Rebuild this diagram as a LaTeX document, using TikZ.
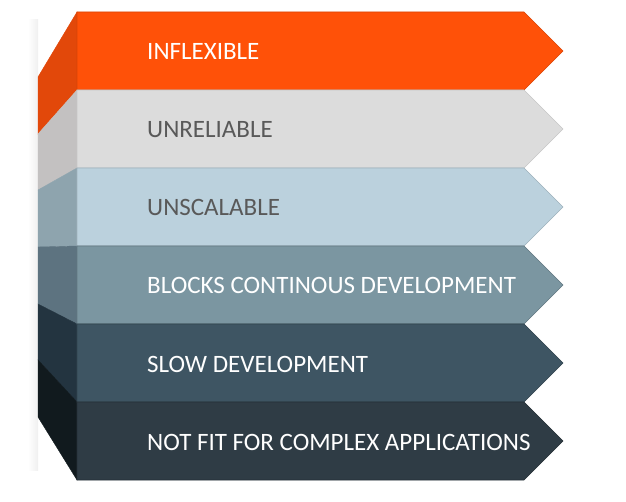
\documentclass[tikz,border=0pt]{standalone}
\usepackage{fontspec}
\setmainfont{Carlito}
\usepackage{tikz}
\definecolor{bandorange}{HTML}{FF5108}
\definecolor{sideorange}{HTML}{E2480A}
\definecolor{bandgray}{HTML}{DCDCDC}
\definecolor{sidegray}{HTML}{C3C1C1}
\definecolor{bandblue}{HTML}{BBD1DD}
\definecolor{sideblue}{HTML}{8EA4AE}
\definecolor{bandsteel}{HTML}{7B96A1}
\definecolor{sidesteel}{HTML}{5D7380}
\definecolor{bandslate}{HTML}{3E5563}
\definecolor{sideslate}{HTML}{233440}
\definecolor{banddark}{HTML}{2F3C45}
\definecolor{sidedark}{HTML}{111A1E}
\definecolor{txtgray}{HTML}{595959}
\tikzset{
  band/.style={line width=0.6pt,line join=miter},
  sideface/.style={line width=0.4pt},
  lbl/.style={anchor=base west,inner sep=0pt,font=\fontsize{25}{29}\selectfont},
  lblwhite/.style={lbl,text=white},
  lblgray/.style={lbl,text=txtgray},
}

\begin{document}
\begin{tikzpicture}[x=1pt,y=-1pt]
  \useasboundingbox (0,0) rectangle (626,502);
  % soft shadow on the left
  \shade[left color=white,right color=black!6] (28,20) rectangle (38,470);
  % side faces
  \filldraw[sideface,fill=sideorange,draw=sideorange] (77,12) -- (77,90) -- (38,134) -- (38,77) -- cycle;
  \filldraw[sideface,fill=sidegray,draw=sidegray] (77,90) -- (77,168) -- (38,190) -- (38,134) -- cycle;
  \filldraw[sideface,fill=sideblue,draw=sideblue] (77,168) -- (77,246) -- (38,247) -- (38,190) -- cycle;
  \filldraw[sideface,fill=sidesteel,draw=sidesteel] (77,246) -- (77,324) -- (38,304) -- (38,247) -- cycle;
  \filldraw[sideface,fill=sideslate,draw=sideslate] (77,324) -- (77,402) -- (38,360) -- (38,304) -- cycle;
  \filldraw[sideface,fill=sidedark,draw=sidedark] (77,402) -- (77,480) -- (38,417) -- (38,360) -- cycle;
  % front bands
  \filldraw[band,fill=bandorange,draw=bandorange!85!black] (77,12) -- (524,12) -- (563,51) -- (524,90) -- (77,90) -- cycle;
  \filldraw[band,fill=bandgray,draw=bandgray!90!black] (77,90) -- (524,90) -- (563,129) -- (524,168) -- (77,168) -- cycle;
  \filldraw[band,fill=bandblue,draw=bandblue!85!black] (77,168) -- (524,168) -- (563,207) -- (524,246) -- (77,246) -- cycle;
  \filldraw[band,fill=bandsteel,draw=bandsteel!80!black] (77,246) -- (524,246) -- (563,285) -- (524,324) -- (77,324) -- cycle;
  \filldraw[band,fill=bandslate,draw=bandslate!80!black] (77,324) -- (524,324) -- (563,363) -- (524,402) -- (77,402) -- cycle;
  \filldraw[band,fill=banddark,draw=banddark!80!black] (77,402) -- (524,402) -- (563,441) -- (524,480) -- (77,480) -- cycle;
  % labels
  \node[lblwhite] (lInflex) at (147,60) {INFLEXIBLE};
  \node[lblgray] (lUnrel) at (147,138) {UNRELIABLE};
  \node[lblgray] (lUnscal) at (147,216) {UNSCALABLE};
  \node[lblwhite] (lBlocks) at (147,294) {BLOCKS CONTINOUS DEVELOPMENT};
  \node[lblwhite] (lSlow) at (147,372) {SLOW DEVELOPMENT};
  \node[lblwhite] (lNotFit) at (147,450) {NOT FIT FOR COMPLEX APPLICATIONS};
\end{tikzpicture}
\end{document}
